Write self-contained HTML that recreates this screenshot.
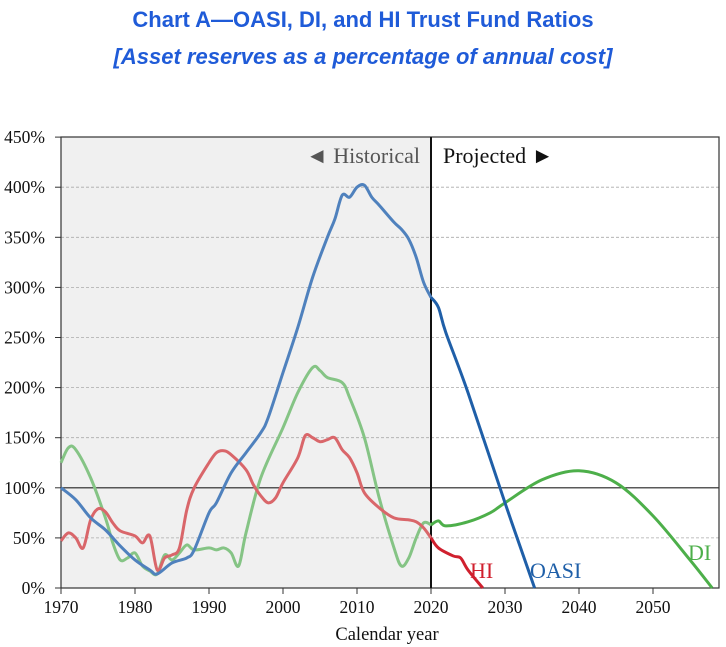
<!DOCTYPE html>
<html><head><meta charset="utf-8"><style>
body{margin:0;background:#fff;width:726px;height:647px;overflow:hidden}
.t{position:absolute;left:0;width:726px;text-align:center;font-family:"Liberation Sans",sans-serif;font-weight:bold;color:#1f5bd8}
</style></head><body>
<div class="t" style="top:7px;font-size:22px">Chart A—OASI, DI, and HI Trust Fund Ratios</div>
<div class="t" style="top:44px;font-size:22px;font-style:italic">[Asset reserves as a percentage of annual cost]</div>
<svg id="s" width="726" height="647" style="position:absolute;left:0;top:0" font-family="Liberation Serif,serif"></svg>
<script>
const X=y=>61+(y-1970)*7.4, Y=v=>588-v*1.002;
let h='<rect x="61" y="137" width="370" height="451" fill="#f0f0f0"/>';
for(let v=50;v<=400;v+=50){if(v!=100)h+=`<line x1="61" x2="719" y1="${Y(v)}" y2="${Y(v)}" stroke="#aaa" stroke-dasharray="3,2" stroke-width="0.8"/>`;}
h+=`<line x1="61" x2="719" y1="${Y(100)}" y2="${Y(100)}" stroke="#222" stroke-width="1.2"/>`;
h+='<rect x="61" y="137" width="658" height="451" fill="none" stroke="#333" stroke-width="1.2"/>';
h+='<line x1="431" x2="431" y1="137" y2="588" stroke="#111" stroke-width="2"/>';
for(let v=0;v<=450;v+=50){h+=`<line x1="55" x2="61" y1="${Y(v)}" y2="${Y(v)}" stroke="#333"/><text x="45" y="${Y(v)+6}" font-size="17.5" text-anchor="end" fill="#111">${v}%</text>`;}
for(let y=1970;y<=2050;y+=10){h+=`<line x1="${X(y)}" x2="${X(y)}" y1="588" y2="594" stroke="#333"/><text x="${X(y)}" y="613" font-size="17.5" text-anchor="middle" fill="#111">${y}</text>`;}
function sm(p){p=p.map(a=>[X(a[0]),Y(a[1])]);let d=`M${p[0][0]},${p[0][1]}`;for(let i=0;i<p.length-1;i++){const a=p[i-1]||p[i],b=p[i],c=p[i+1],e=p[i+2]||c;d+=`C${b[0]+(c[0]-a[0])/6},${b[1]+(c[1]-a[1])/6} ${c[0]-(e[0]-b[0])/6},${c[1]-(e[1]-b[1])/6} ${c[0]},${c[1]}`;}return d;}
function L(p,c){h+=`<path d="${sm(p)}" fill="none" stroke="${c}" stroke-width="3" stroke-linejoin="round"/>`;}
L([[1970,125],[1971,140],[1972,138],[1974,110],[1976,70],[1977,45],[1978,28],[1979,30],[1980,35],[1981,22],[1982,17],[1983,14],[1984,33],[1985,28],[1986,35],[1987,43],[1988,38],[1990,40],[1991,38],[1992,40],[1993,35],[1994,22],[1995,55],[1997,110],[2000,160],[2002,195],[2004,220],[2005,217],[2006,210],[2008,205],[2009,190],[2011,150],[2013,90],[2015,40],[2016,22],[2017,30],[2018,50],[2019,65],[2020,63]],'#85c485');
L([[1970,47],[1971,55],[1972,50],[1973,40],[1974,68],[1975,79],[1976,76],[1977,65],[1978,57],[1980,52],[1981,45],[1982,52],[1983,18],[1984,30],[1985,33],[1986,40],[1987,78],[1988,100],[1990,125],[1991,135],[1992,137],[1993,133],[1995,118],[1996,103],[1997,92],[1998,85],[1999,90],[2000,105],[2002,130],[2003,152],[2004,150],[2005,146],[2006,148],[2007,150],[2008,138],[2009,130],[2010,115],[2011,95],[2013,80],[2015,70],[2017,68],[2018,66],[2019,60],[2020,50]],'#d9666a');
L([[1970,100],[1972,88],[1974,70],[1976,58],[1978,42],[1980,28],[1982,18],[1983,14],[1985,25],[1987,30],[1988,38],[1990,75],[1991,85],[1993,115],[1995,135],[1997,155],[1998,170],[2000,215],[2002,260],[2004,310],[2006,350],[2007,368],[2008,392],[2009,390],[2010,400],[2011,402],[2012,390],[2013,382],[2015,365],[2016,358],[2017,348],[2018,330],[2019,305],[2020,290]],'#4f81bd');
L([[2020,63],[2021,67],[2022,62],[2025,66],[2028,75],[2030,85],[2035,108],[2040,117],[2045,105],[2050,72],[2055,28],[2058,0]],'#4daf4a');
L([[2020,50],[2021,40],[2023,32],[2024,30],[2025,18],[2027,0]],'#d0202e');
L([[2020,290],[2021,280],[2022,255],[2025,195],[2030,85],[2034,0]],'#1f5fa8');
h+='<text x="420" y="163" font-size="22" text-anchor="end" fill="#555">◄ Historical</text><text x="443" y="163" font-size="22" fill="#111">Projected ►</text>';
h+='<text x="470" y="578" font-size="22" fill="#d0202e">HI</text><text x="530" y="578" font-size="22" fill="#1f5fa8">OASI</text><text x="688" y="560" font-size="22" fill="#4daf4a">DI</text>';
h+='<text x="387" y="640" font-size="18.5" text-anchor="middle" fill="#111">Calendar year</text>';
document.getElementById('s').innerHTML=h;
</script>
</body></html>
